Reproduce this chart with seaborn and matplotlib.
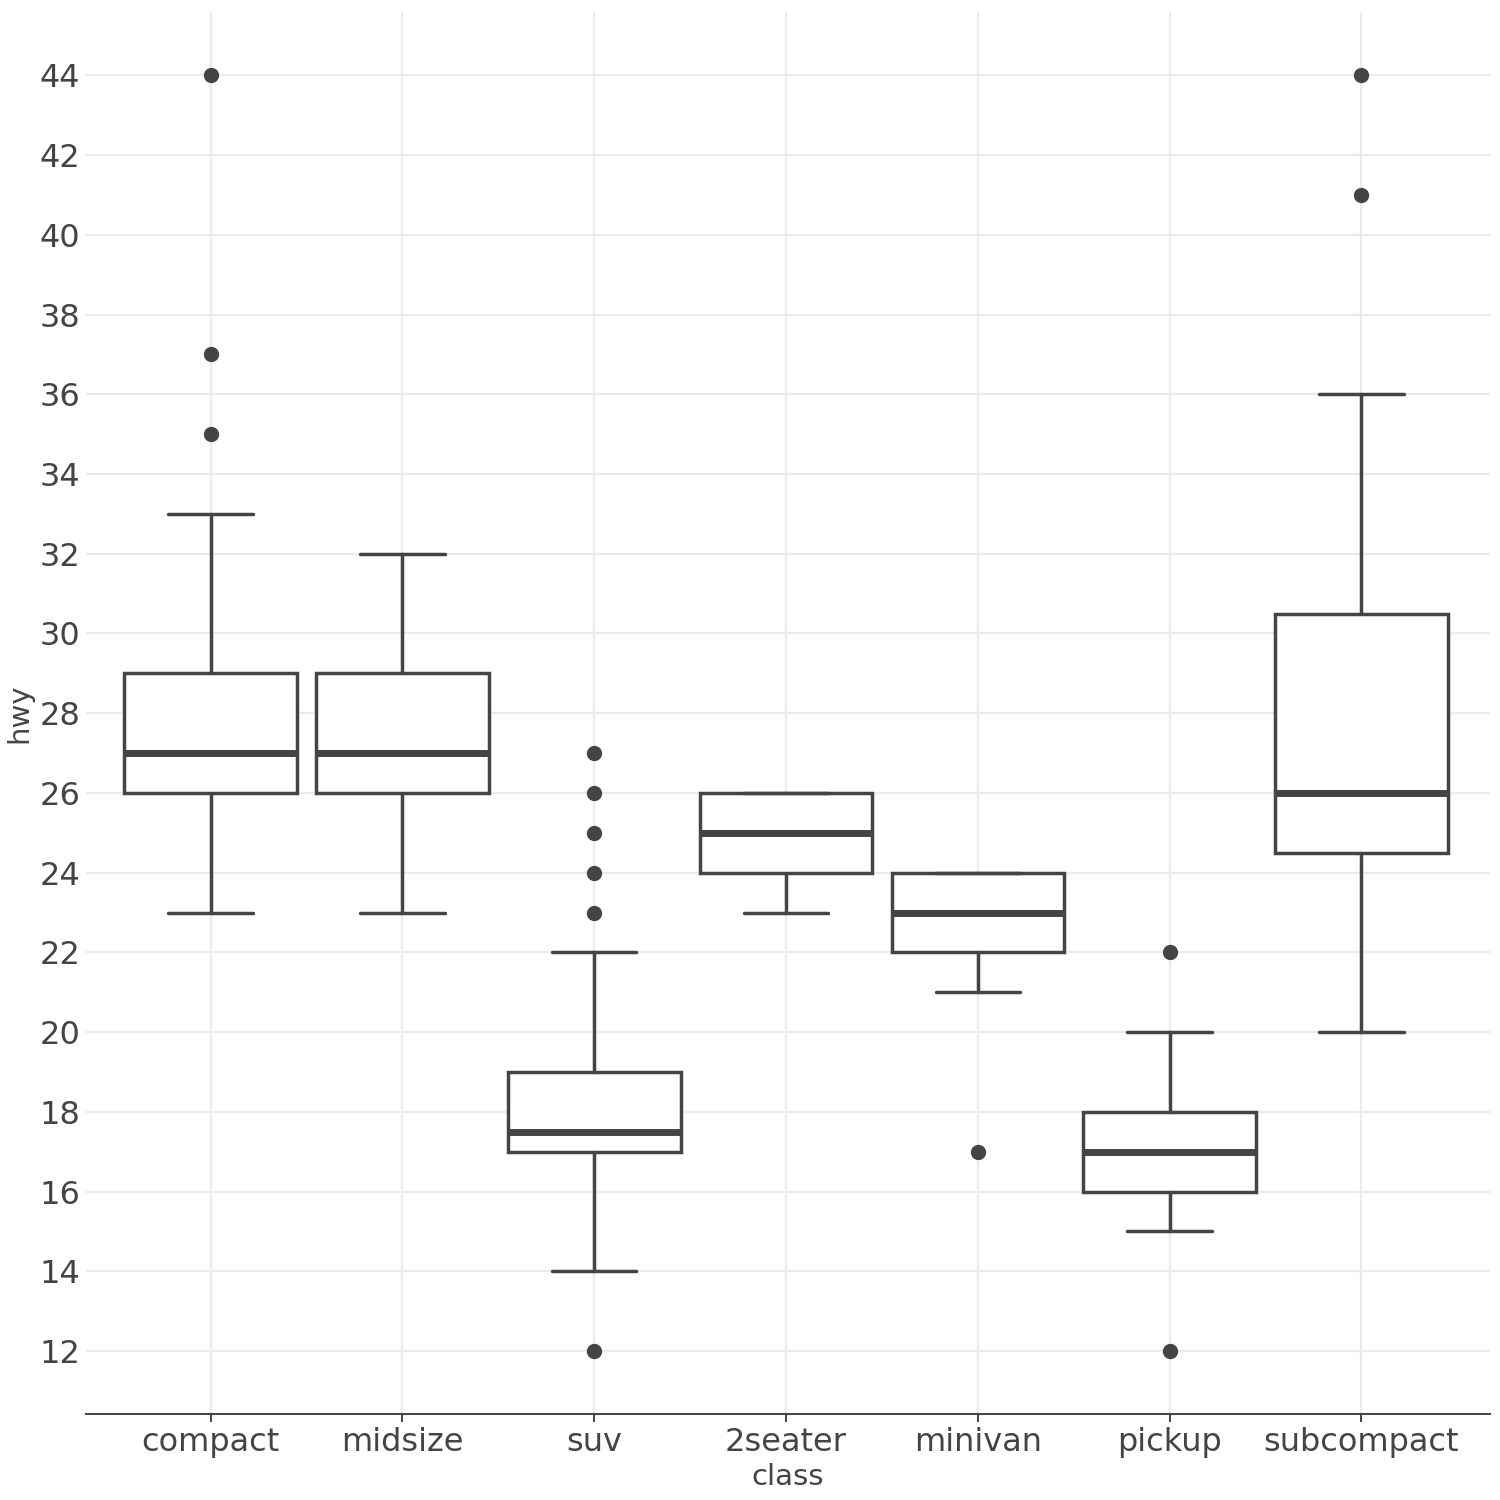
import numpy as np
import seaborn as sns
import matplotlib
matplotlib.use("Agg")
import matplotlib.pyplot as plt

# box statistics (hwy by class)
classes = ["compact", "midsize", "suv", "2seater", "minivan", "pickup", "subcompact"]
whislo = [23, 23, 14, 23, 21, 15, 20]
q1 = [26, 26, 17, 24, 22, 16, 24.5]
med = [27, 27, 17.5, 25, 23, 17, 26]
q3 = [29, 29, 19, 26, 24, 18, 30.5]
whishi = [33, 32, 22, 26, 24, 20, 36]
fliers = [
    [35, 37, 44],
    [],
    [12, 23, 24, 25, 26, 27],
    [],
    [17],
    [12, 22],
    [41, 44],
]
y_ticks = list(range(12, 46, 2))

DARK = "#444444"
GRID = "#ebebeb"

sns.set_theme(style="white")
plt.rcParams["font.family"] = ["DejaVu Sans"]

fig = plt.figure(figsize=(15, 15), dpi=100)
ax = fig.add_axes([0.0573, 0.0573, 0.936, 0.935])

stats = []
for i, c in enumerate(classes):
    stats.append(dict(label=c, whislo=whislo[i], q1=q1[i], med=med[i],
                      q3=q3[i], whishi=whishi[i], fliers=fliers[i]))

ax.bxp(stats, positions=np.arange(len(classes)), widths=0.9, capwidths=0.44,
       patch_artist=True, zorder=3,
       boxprops=dict(facecolor="white", edgecolor=DARK, linewidth=2.5),
       medianprops=dict(color=DARK, linewidth=5, solid_capstyle="butt"),
       whiskerprops=dict(color=DARK, linewidth=2.5),
       capprops=dict(color=DARK, linewidth=2.5),
       flierprops=dict(marker="o", markerfacecolor=DARK, markeredgecolor=DARK,
                       markersize=10))

ax.set_xlim(-0.65, 6.67)
ax.set_ylim(10.42, 45.6)
ax.set_yticks(y_ticks)
ax.set_xticks(np.arange(len(classes)))
ax.set_xticklabels(classes)

ax.grid(True, color=GRID, linewidth=1.6, zorder=0)
ax.set_axisbelow(True)

sns.despine(ax=ax, left=True, top=True, right=True)
ax.spines["bottom"].set_color(DARK)
ax.spines["bottom"].set_linewidth(1.4)

ax.tick_params(axis="x", length=6, width=1.4, color=DARK, labelsize=23,
               labelcolor=DARK, pad=3, bottom=True)
ax.tick_params(axis="y", length=0, labelsize=23, labelcolor=DARK, pad=4)

ax.set_xlabel("class", fontsize=21, color=DARK, labelpad=4)
ax.set_ylabel("hwy", fontsize=21, color=DARK, labelpad=4)

fig.savefig("out.png", dpi=100)
